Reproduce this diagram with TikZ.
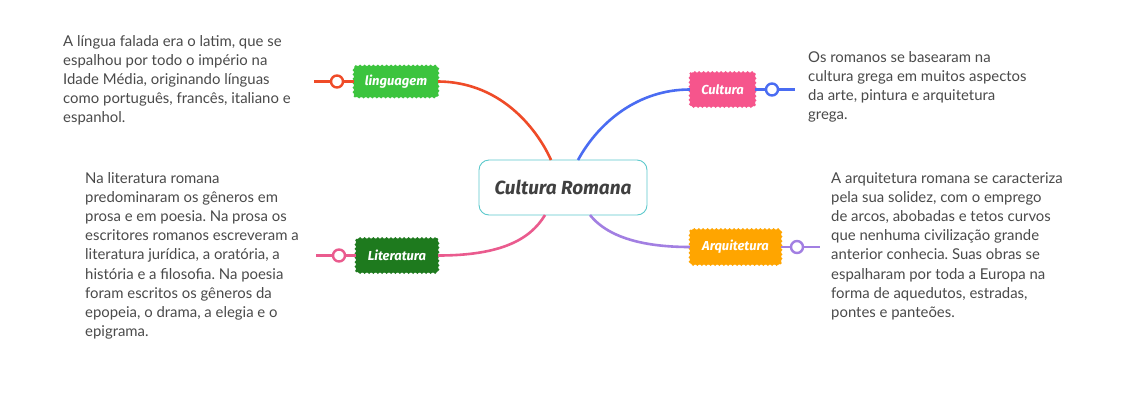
\documentclass[tikz,border=0pt]{standalone}
\usepackage{fontspec}
\setmainfont{Lato}
\newfontfamily\hand{Fira Sans}
\definecolor{txt}{HTML}{4A4A4A}
\definecolor{cRed}{HTML}{EF4B28}
\definecolor{cBlue}{HTML}{4A6CF2}
\definecolor{cPink}{HTML}{EA5B8E}
\definecolor{cPurple}{HTML}{A27FE2}
\definecolor{gLing}{HTML}{3CC43E}
\definecolor{pCult}{HTML}{F6558C}
\definecolor{gLit}{HTML}{1E7A1E}
\definecolor{oArq}{HTML}{FFA500}
\definecolor{teal}{HTML}{5CC9CC}
\tikzset{
  note/.style={anchor=north west, inner sep=0pt, align=left, text=txt,
    font=\frenchspacing\fontsize{14.9}{19.2}\selectfont},
  topic/.style={rectangle, rounded corners=3pt, fill=#1, draw=#1,
    text=white, font=\hand\itshape\bfseries\fontsize{13}{15}\selectfont,
    minimum height=31pt, inner xsep=4pt,
    postaction={draw=#1, line width=3pt, dash pattern=on 0pt off 4.4pt, line cap=round}},
  link/.style={line width=2.6pt, draw=#1},
  knob/.style={circle, draw=#1, fill=white, line width=2.4pt, minimum size=12pt, inner sep=0pt}
}
\begin{document}
\begin{tikzpicture}[x=1pt,y=-1pt]
\useasboundingbox (0,0) rectangle (1123,400);
\fill[white] (0,0) rectangle (1123,400);

% central
\node[rectangle, rounded corners=10pt, draw=teal, line width=0.9pt, fill=white,
  minimum width=168pt, minimum height=55pt, text=black!75,
  font=\hand\itshape\bfseries\fontsize{19}{22}\selectfont] (center) at (563,187.5) {Cultura Romana};

\coordinate (cTL) at (551,160);
\coordinate (cTR) at (578,160);
\coordinate (cBL) at (545,215);
\coordinate (cBR) at (590,215);

% topics
\node[topic=gLing, minimum width=84pt] (ling) at (396,81.5) {linguagem};
\node[topic=pCult, minimum width=65pt, minimum height=34pt] (cult) at (722.5,89.5) {Cultura};
\node[topic=gLit, minimum width=82pt, minimum height=34pt] (lit) at (397,255.5) {Literatura};
\node[topic=oArq, minimum width=91pt, minimum height=35pt] (arq) at (735.5,247) {Arquitetura};

% connectors
\draw[link=cRed] (ling.east) .. controls (505,82) and (540,135) .. (cTL);
\draw[link=cBlue] (cTR) .. controls (600,120) and (640,89.5) .. (cult.west);
\draw[link=cPink] (lit.east) .. controls (500,255.5) and (530,240) .. (cBL);
\draw[link=cPurple] (cBR) .. controls (610,240) and (650,247) .. (arq.west);

% knobs
\coordinate (lEnd) at (314,81.5);
\coordinate (cuEnd) at (795,89.5);
\coordinate (liEnd) at (316,255.5);
\coordinate (aEnd) at (820,247);
\draw[link=cRed] (lEnd) -- (ling.west);
\draw[link=cBlue] (cult.east) -- (cuEnd);
\draw[link=cPink] (liEnd) -- (lit.west);
\draw[link=cPurple] (arq.east) -- (aEnd);
\node[knob=cRed] (k1) at (337,81.5) {};
\node[knob=cBlue] (k2) at (772,89.5) {};
\node[knob=cPink] (k3) at (339,255.5) {};
\node[knob=cPurple] (k4) at (797,247) {};

% notes
\node[note] (n1) at (63,35) {A língua falada era o latim, que se\\espalhou por todo o império na\\Idade Média, originando línguas\\como português, francês, italiano e\\espanhol.};
\node[note] (n2) at (85,172) {Na literatura romana\\predominaram os gêneros em\\prosa e em poesia. Na prosa os\\escritores romanos escreveram a\\literatura jurídica, a oratória, a\\história e a filosofia. Na poesia\\foram escritos os gêneros da\\epopeia, o drama, a elegia e o\\epigrama.};
\node[note] (n3) at (808,51) {Os romanos se basearam na\\cultura grega em muitos aspectos\\da arte, pintura e arquitetura\\grega.};
\node[note] (n4) at (831,172) {A arquitetura romana se caracteriza\\pela sua solidez, com o emprego\\de arcos, abobadas e tetos curvos\\que nenhuma civilização grande\\anterior conhecia. Suas obras se\\espalharam por toda a Europa na\\forma de aquedutos, estradas,\\pontes e panteões.};
\end{tikzpicture}
\end{document}
